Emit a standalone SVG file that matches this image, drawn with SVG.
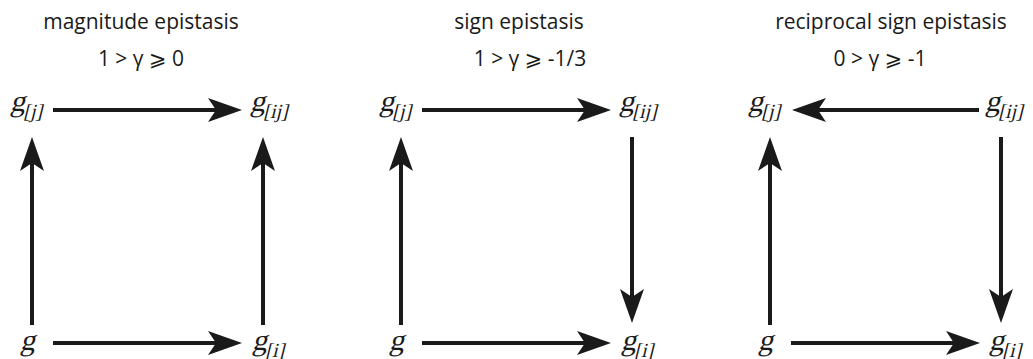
<svg xmlns="http://www.w3.org/2000/svg" width="1033" height="359" viewBox="0 0 1033 359">
<defs>
<marker id="ah" viewBox="0 0 34 24" refX="8" refY="12" markerWidth="34" markerHeight="24" markerUnits="userSpaceOnUse" orient="auto">
<path d="M34,12 L0,0 L8,12 L0,24 Z" fill="#1a1a1a"/>
</marker>
</defs>
<style>
.t{font-family:"Open Sans","Noto Sans","DejaVu Sans",sans-serif;font-size:21px;fill:#1a1a1a;text-anchor:middle}
.g{font-family:"Liberation Serif","Times New Roman",serif;font-style:normal;font-size:30px;fill:#1a1a1a}
.s{font-size:20px}
.c line{stroke:#1a1a1a;stroke-width:4;marker-end:url(#ah)}
</style>
<rect width="1033" height="359" fill="#fff"/>
<g id="titles">
<text class="t" x="141" y="29">magnitude epistasis</text>
<text class="t" x="141" y="66">1 &gt; γ ⩾ 0</text>
<text class="t" x="519" y="29">sign epistasis</text>
<text class="t" x="530" y="66">1 &gt; γ ⩾ -1/3</text>
<text class="t" x="891" y="29">reciprocal sign epistasis</text>
<text class="t" x="880" y="66">0 &gt; γ ⩾ -1</text>
</g>
<g id="p1-gj" transform="translate(10,111) skewX(-14)"><text class="g">g<tspan class="s" dy="7">[j]</tspan></text></g>
<g id="p1-gij" transform="translate(250,111) skewX(-14)"><text class="g">g<tspan class="s" dy="7">[ij]</tspan></text></g>
<g id="p1-g" transform="translate(20,350) skewX(-14)"><text class="g">g</text></g>
<g id="p1-gi" transform="translate(252,350) skewX(-14)"><text class="g">g<tspan class="s" dy="7">[i]</tspan></text></g>
<g id="p2-gj" transform="translate(379,111) skewX(-14)"><text class="g">g<tspan class="s" dy="7">[j]</tspan></text></g>
<g id="p2-gij" transform="translate(619,111) skewX(-14)"><text class="g">g<tspan class="s" dy="7">[ij]</tspan></text></g>
<g id="p2-g" transform="translate(389,350) skewX(-14)"><text class="g">g</text></g>
<g id="p2-gi" transform="translate(621,350) skewX(-14)"><text class="g">g<tspan class="s" dy="7">[i]</tspan></text></g>
<g id="p3-gj" transform="translate(748,111) skewX(-14)"><text class="g">g<tspan class="s" dy="7">[j]</tspan></text></g>
<g id="p3-gij" transform="translate(985,111) skewX(-14)"><text class="g">g<tspan class="s" dy="7">[ij]</tspan></text></g>
<g id="p3-g" transform="translate(758,350) skewX(-14)"><text class="g">g</text></g>
<g id="p3-gi" transform="translate(989,350) skewX(-14)"><text class="g">g<tspan class="s" dy="7">[i]</tspan></text></g>
<g id="connectors" class="c">
<line x1="53" y1="110" x2="216" y2="110"/>
<line x1="53" y1="343" x2="216" y2="343"/>
<line x1="32" y1="325" x2="32" y2="163"/>
<line x1="263" y1="325" x2="263" y2="163"/>
<line x1="422" y1="110" x2="585" y2="110"/>
<line x1="422" y1="343" x2="585" y2="343"/>
<line x1="401" y1="325" x2="401" y2="163"/>
<line x1="632" y1="137" x2="632" y2="297"/>
<line x1="979" y1="110" x2="818" y2="110"/>
<line x1="791" y1="343" x2="954" y2="343"/>
<line x1="770" y1="325" x2="770" y2="163"/>
<line x1="1001" y1="137" x2="1001" y2="297"/>
</g>
</svg>
